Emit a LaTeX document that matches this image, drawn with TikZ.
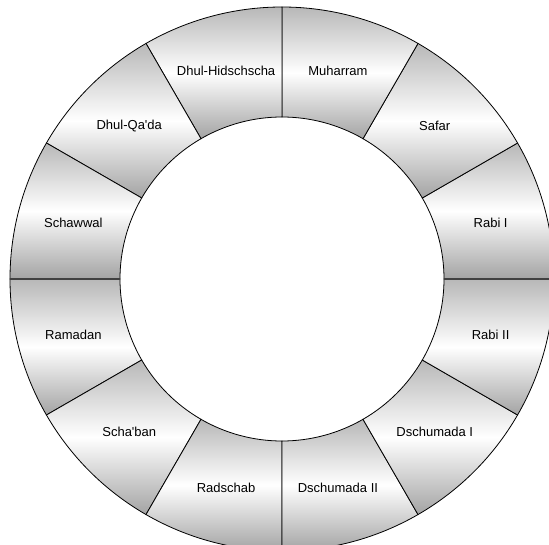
\documentclass[tikz,border=0pt]{standalone}
\usepackage{fontspec}
\setmainfont{Liberation Sans}
\tikzset{
  seg/.style={draw=black, line width=0.8pt, top color=black!28, bottom color=black!36, middle color=white},
  lbl/.style={font=\fontsize{13}{15}\selectfont, inner sep=0pt},
  hdiv/.style={draw=black!75, line width=1.5pt}
}
\begin{document}
\begin{tikzpicture}[x=1pt,y=1pt]
\useasboundingbox (0,0) rectangle (549,544);
\fill[white] (0,0) rectangle (549,544);
\clip (0,0) rectangle (549,544);
\begin{scope}[shift={(282,265)}]
\foreach \a [evaluate=\a as \b using \a+30] in {0,30,...,330} {
  \path[seg] (\a:272) arc[start angle=\a, end angle=\b, radius=272]
    -- (\b:162) arc[start angle=\b, end angle=\a, radius=162] -- cycle;
}
\draw[hdiv] (0:162) -- (0:272);
\draw[hdiv] (180:162) -- (180:272);
\node[lbl] (muharram) at (75:216) {Muharram};
\node[lbl] (safar) at (45:216) {Safar};
\node[lbl] (rabi1) at (15:216) {Rabi I};
\node[lbl] (rabi2) at (-15:216) {Rabi II};
\node[lbl] (dsch1) at (-45:216) {Dschumada I};
\node[lbl] (dsch2) at (-75:216) {Dschumada II};
\node[lbl] (radschab) at (-105:216) {Radschab};
\node[lbl] (schaban) at (-135:216) {Scha\textquotesingle ban};
\node[lbl] (ramadan) at (-165:216) {Ramadan};
\node[lbl] (schawwal) at (165:216) {Schawwal};
\node[lbl] (qada) at (135:216) {Dhul-Qa\textquotesingle da};
\node[lbl] (hidsch) at (105:216) {Dhul-Hidschscha};
\end{scope}
\end{tikzpicture}
\end{document}
